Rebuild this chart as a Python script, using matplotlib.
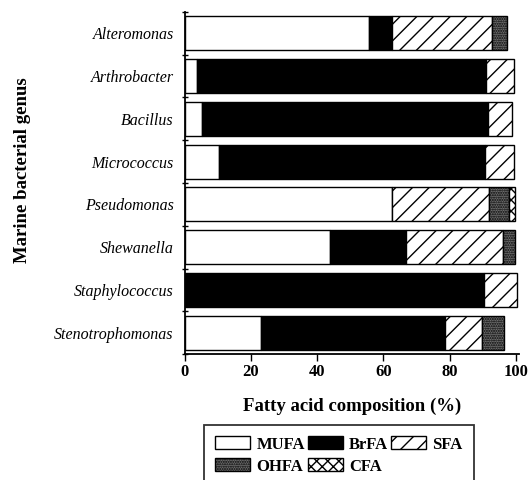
import numpy as np
import matplotlib
matplotlib.use("Agg")
import matplotlib.pyplot as plt

plt.rcParams['font.family'] = ['Liberation Serif', 'DejaVu Serif']
plt.rcParams['hatch.linewidth'] = 1.0

# data (% of total fatty acids)
genera = ['Alteromonas', 'Arthrobacter', 'Bacillus', 'Micrococcus',
          'Pseudomonas', 'Shewanella', 'Staphylococcus', 'Stenotrophomonas']
mufa = [55.7, 3.7, 5.3, 10.3, 62.7, 44.0, 0.0, 23.1]
brfa = [7.0, 87.2, 86.4, 80.4, 0.0, 22.8, 90.4, 55.5]
sfa = [30.1, 8.5, 7.2, 8.7, 29.2, 29.4, 10.0, 11.1]
ohfa = [4.6, 0.0, 0.0, 0.0, 6.0, 3.5, 0.0, 6.7]
cfa = [0.0, 0.0, 0.0, 0.0, 2.0, 0.0, 0.0, 0.0]

series = [('MUFA', mufa, 'white', ''),
          ('BrFA', brfa, 'black', ''),
          ('SFA', sfa, 'white', '//'),
          ('OHFA', ohfa, '#707070', '.......'),
          ('CFA', cfa, 'white', 'xxx')]

fig = plt.figure(figsize=(5.28, 4.8), dpi=100)
ax = fig.add_axes([0.350, 0.2625, 0.633, 0.7125])

y = np.arange(len(genera))
left = np.zeros(len(genera))
handles = {}
for name, vals, fc, hatch in series:
    vals = np.array(vals)
    mask = vals > 0
    b = ax.barh(y[mask], vals[mask], left=left[mask], height=0.8,
                color=fc, edgecolor='black', hatch=hatch, linewidth=1.0,
                label=name)
    handles[name] = b
    left += vals

ax.set_ylim(len(genera) - 0.5, -0.5)
ax.set_xlim(0, 101)
ax.set_yticks(y)
ax.set_yticklabels(genera, style='italic', fontsize=11.5)
ax.set_yticks(np.arange(-0.5, len(genera), 1.0), minor=True)
ax.tick_params(axis='y', which='major', length=0, pad=8)
ax.tick_params(axis='y', which='minor', length=5, direction='inout', width=1)
ax.set_xticks([0, 20, 40, 60, 80, 100])
ax.tick_params(axis='x', length=5, width=1, labelsize=12, pad=2)
for lab in ax.get_xticklabels():
    lab.set_fontweight('bold')

ax.spines['top'].set_visible(False)
ax.spines['right'].set_visible(False)
ax.spines['left'].set_linewidth(1.3)
ax.spines['bottom'].set_linewidth(1.3)

ax.set_xlabel('Fatty acid composition (%)', fontsize=13.5, fontweight='bold',
              labelpad=13)
fig.text(0.042, 0.645, 'Marine bacterial genus', rotation=90, fontsize=13.5,
         fontweight='bold', ha='center', va='center')

order = ['MUFA', 'OHFA', 'BrFA', 'CFA', 'SFA']
leg = fig.legend([handles[k] for k in order], order, ncol=3,
                 loc='upper left', bbox_to_anchor=(0.386, 0.115),
                 frameon=True, fancybox=False, edgecolor='black',
                 prop={'weight': 'bold', 'size': 12},
                 handlelength=2.1, handleheight=0.8, columnspacing=0.2,
                 handletextpad=0.35, labelspacing=0.35, borderpad=0.7,
                 borderaxespad=0)
leg.get_frame().set_linewidth(1.3)

fig.savefig('out.png', dpi=100, facecolor='white')
